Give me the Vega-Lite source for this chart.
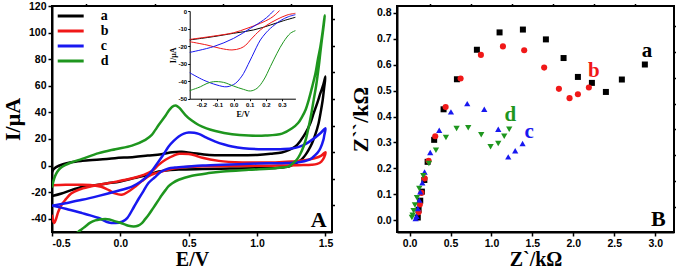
{
"$schema": "https://vega.github.io/schema/vega-lite/v6.json",
"padding": 0,
"background": "white",
"spacing": 11,
"resolve": {"scale": {"color": "independent", "shape": "independent", "size": "independent"}},
"config": {
  "view": {"stroke": "black", "strokeWidth": 2},
  "axis": {"domainColor": "black", "domainWidth": 2, "tickColor": "black", "tickWidth": 1.5, "tickSize": 4, "labelPadding": 2, "labelFont": "Liberation Sans", "labelFontWeight": "bold", "labelFontSize": 10.5, "labelColor": "black", "titleFont": "Liberation Serif", "titleFontWeight": "bold", "titleFontSize": 23, "titleColor": "black", "grid": false},
  "legend": {"orient": "top-left", "offset": 3, "padding": 0, "symbolType": "M-3,0H3", "symbolSize": 75, "symbolOffset": 8.7, "symbolStrokeWidth": 3, "labelFont": "Liberation Serif", "labelFontWeight": "bold", "labelFontSize": 14, "labelColor": "black", "labelOffset": 23, "rowPadding": 1}
},
"datasets": {
 "cv": [
  {"c":"a","o":1,"E":-0.5,"I":-5},{"c":"a","o":2,"E":-0.49,"I":-3},{"c":"a","o":3,"E":-0.47,"I":-1.2},{"c":"a","o":4,"E":-0.42,"I":1},{"c":"a","o":5,"E":-0.36,"I":2.5},{"c":"a","o":6,"E":-0.28,"I":3.5},{"c":"a","o":7,"E":-0.15,"I":4.5},{"c":"a","o":8,"E":-0.04,"I":5.5},{"c":"a","o":9,"E":0.1,"I":6.5},{"c":"a","o":10,"E":0.2,"I":7.5},{"c":"a","o":11,"E":0.3,"I":8.5},{"c":"a","o":12,"E":0.38,"I":10},{"c":"a","o":13,"E":0.45,"I":10.3},{"c":"a","o":14,"E":0.52,"I":9.5},{"c":"a","o":15,"E":0.65,"I":8},{"c":"a","o":16,"E":0.8,"I":7.8},{"c":"a","o":17,"E":1.0,"I":8},{"c":"a","o":18,"E":1.1,"I":8.8},{"c":"a","o":19,"E":1.18,"I":9.8},{"c":"a","o":20,"E":1.24,"I":12},{"c":"a","o":21,"E":1.28,"I":14.3},{"c":"a","o":22,"E":1.32,"I":19},{"c":"a","o":23,"E":1.354,"I":24.3},{"c":"a","o":24,"E":1.39,"I":32},{"c":"a","o":25,"E":1.414,"I":39.4},{"c":"a","o":26,"E":1.44,"I":47},{"c":"a","o":27,"E":1.463,"I":54.4},{"c":"a","o":28,"E":1.485,"I":61},{"c":"a","o":29,"E":1.5,"I":67},{"c":"a","o":30,"E":1.49,"I":58},{"c":"a","o":31,"E":1.48,"I":49.3},{"c":"a","o":32,"E":1.465,"I":40},{"c":"a","o":33,"E":1.45,"I":31.8},{"c":"a","o":34,"E":1.425,"I":23},{"c":"a","o":35,"E":1.402,"I":16.8},{"c":"a","o":36,"E":1.378,"I":12},{"c":"a","o":37,"E":1.354,"I":8},{"c":"a","o":38,"E":1.33,"I":5},{"c":"a","o":39,"E":1.305,"I":3},{"c":"a","o":40,"E":1.27,"I":1},{"c":"a","o":41,"E":1.232,"I":-0.7},{"c":"a","o":42,"E":1.15,"I":-1.6},{"c":"a","o":43,"E":1.0,"I":-2},{"c":"a","o":44,"E":0.8,"I":-2.3},{"c":"a","o":45,"E":0.6,"I":-2.6},{"c":"a","o":46,"E":0.45,"I":-3},{"c":"a","o":47,"E":0.35,"I":-3.5},{"c":"a","o":48,"E":0.28,"I":-4.5},{"c":"a","o":49,"E":0.2,"I":-7},{"c":"a","o":50,"E":0.1,"I":-9.5},{"c":"a","o":51,"E":0.0,"I":-12},{"c":"a","o":52,"E":-0.1,"I":-13.5},{"c":"a","o":53,"E":-0.2,"I":-15},{"c":"a","o":54,"E":-0.28,"I":-16.2},{"c":"a","o":55,"E":-0.36,"I":-18.5},{"c":"a","o":56,"E":-0.43,"I":-21},{"c":"a","o":57,"E":-0.5,"I":-23},
  {"c":"b","o":1,"E":-0.5,"I":-37},{"c":"b","o":2,"E":-0.49,"I":-42},{"c":"b","o":3,"E":-0.483,"I":-43.3},{"c":"b","o":4,"E":-0.47,"I":-40},{"c":"b","o":5,"E":-0.455,"I":-35},{"c":"b","o":6,"E":-0.43,"I":-29.5},{"c":"b","o":7,"E":-0.4,"I":-25.5},{"c":"b","o":8,"E":-0.36,"I":-21},{"c":"b","o":9,"E":-0.3,"I":-18},{"c":"b","o":10,"E":-0.22,"I":-15.8},{"c":"b","o":11,"E":-0.16,"I":-14.5},{"c":"b","o":12,"E":-0.04,"I":-12.3},{"c":"b","o":13,"E":0.08,"I":-9.8},{"c":"b","o":14,"E":0.17,"I":-7},{"c":"b","o":15,"E":0.23,"I":-4.2},{"c":"b","o":16,"E":0.28,"I":0.5},{"c":"b","o":17,"E":0.33,"I":4.3},{"c":"b","o":18,"E":0.39,"I":7.5},{"c":"b","o":19,"E":0.43,"I":8.8},{"c":"b","o":20,"E":0.5,"I":8.6},{"c":"b","o":21,"E":0.55,"I":7.5},{"c":"b","o":22,"E":0.6,"I":5.8},{"c":"b","o":23,"E":0.72,"I":3.5},{"c":"b","o":24,"E":0.89,"I":2.3},{"c":"b","o":25,"E":1.0,"I":2.2},{"c":"b","o":26,"E":1.134,"I":2.3},{"c":"b","o":27,"E":1.25,"I":3},{"c":"b","o":28,"E":1.35,"I":4},{"c":"b","o":29,"E":1.42,"I":5.5},{"c":"b","o":30,"E":1.47,"I":7.5},{"c":"b","o":31,"E":1.5,"I":10},{"c":"b","o":32,"E":1.49,"I":6},{"c":"b","o":33,"E":1.47,"I":3},{"c":"b","o":34,"E":1.44,"I":1.2},{"c":"b","o":35,"E":1.4,"I":0.5},{"c":"b","o":36,"E":1.3,"I":0.3},{"c":"b","o":37,"E":1.15,"I":0},{"c":"b","o":38,"E":1.0,"I":-0.2},{"c":"b","o":39,"E":0.8,"I":-0.4},{"c":"b","o":40,"E":0.6,"I":-0.6},{"c":"b","o":41,"E":0.5,"I":-0.9},{"c":"b","o":42,"E":0.45,"I":-1.5},{"c":"b","o":43,"E":0.38,"I":-2.5},{"c":"b","o":44,"E":0.3,"I":-4.5},{"c":"b","o":45,"E":0.25,"I":-6},{"c":"b","o":46,"E":0.207,"I":-8},{"c":"b","o":47,"E":0.16,"I":-11.5},{"c":"b","o":48,"E":0.11,"I":-15.8},{"c":"b","o":49,"E":0.06,"I":-19.5},{"c":"b","o":50,"E":0.01,"I":-22},{"c":"b","o":51,"E":-0.04,"I":-21},{"c":"b","o":52,"E":-0.085,"I":-18.5},{"c":"b","o":53,"E":-0.14,"I":-16},{"c":"b","o":54,"E":-0.207,"I":-14.8},{"c":"b","o":55,"E":-0.3,"I":-14.5},{"c":"b","o":56,"E":-0.4,"I":-14.5},{"c":"b","o":57,"E":-0.5,"I":-14.8},
  {"c":"c","o":1,"E":-0.5,"I":-30.3},{"c":"c","o":2,"E":-0.4,"I":-28.3},{"c":"c","o":3,"E":-0.28,"I":-25.8},{"c":"c","o":4,"E":-0.158,"I":-22.8},{"c":"c","o":5,"E":-0.036,"I":-19.5},{"c":"c","o":6,"E":0.085,"I":-15.8},{"c":"c","o":7,"E":0.15,"I":-12},{"c":"c","o":8,"E":0.207,"I":-7},{"c":"c","o":9,"E":0.245,"I":-2},{"c":"c","o":10,"E":0.28,"I":3},{"c":"c","o":11,"E":0.32,"I":9},{"c":"c","o":12,"E":0.353,"I":14.3},{"c":"c","o":13,"E":0.39,"I":18.5},{"c":"c","o":14,"E":0.427,"I":21.8},{"c":"c","o":15,"E":0.465,"I":24},{"c":"c","o":16,"E":0.5,"I":24.8},{"c":"c","o":17,"E":0.54,"I":24.6},{"c":"c","o":18,"E":0.573,"I":23.8},{"c":"c","o":19,"E":0.63,"I":21},{"c":"c","o":20,"E":0.695,"I":18},{"c":"c","o":21,"E":0.76,"I":15.8},{"c":"c","o":22,"E":0.817,"I":14.3},{"c":"c","o":23,"E":0.9,"I":13},{"c":"c","o":24,"E":1.01,"I":12.3},{"c":"c","o":25,"E":1.158,"I":12.3},{"c":"c","o":26,"E":1.25,"I":12.8},{"c":"c","o":27,"E":1.305,"I":14},{"c":"c","o":28,"E":1.36,"I":16.5},{"c":"c","o":29,"E":1.402,"I":19.3},{"c":"c","o":30,"E":1.463,"I":24.3},{"c":"c","o":31,"E":1.5,"I":28},{"c":"c","o":32,"E":1.492,"I":23},{"c":"c","o":33,"E":1.485,"I":19.3},{"c":"c","o":34,"E":1.463,"I":13},{"c":"c","o":35,"E":1.445,"I":10},{"c":"c","o":36,"E":1.427,"I":8},{"c":"c","o":37,"E":1.4,"I":5.5},{"c":"c","o":38,"E":1.378,"I":4.3},{"c":"c","o":39,"E":1.305,"I":2.5},{"c":"c","o":40,"E":1.183,"I":1.8},{"c":"c","o":41,"E":1.0,"I":1.5},{"c":"c","o":42,"E":0.8,"I":0.8},{"c":"c","o":43,"E":0.6,"I":0},{"c":"c","o":44,"E":0.5,"I":-0.7},{"c":"c","o":45,"E":0.4,"I":-1.5},{"c":"c","o":46,"E":0.353,"I":-2.2},{"c":"c","o":47,"E":0.3,"I":-4.5},{"c":"c","o":48,"E":0.25,"I":-9},{"c":"c","o":49,"E":0.207,"I":-13},{"c":"c","o":50,"E":0.17,"I":-19},{"c":"c","o":51,"E":0.134,"I":-25},{"c":"c","o":52,"E":0.1,"I":-31},{"c":"c","o":53,"E":0.05,"I":-39.5},{"c":"c","o":54,"E":0.013,"I":-42.3},{"c":"c","o":55,"E":-0.036,"I":-43.3},{"c":"c","o":56,"E":-0.085,"I":-42.8},{"c":"c","o":57,"E":-0.158,"I":-39.5},{"c":"c","o":58,"E":-0.22,"I":-37.5},{"c":"c","o":59,"E":-0.28,"I":-35.8},{"c":"c","o":60,"E":-0.4,"I":-32.5},{"c":"c","o":61,"E":-0.5,"I":-30},
  {"c":"d","o":1,"E":-0.5,"I":-16.5},{"c":"d","o":2,"E":-0.49,"I":-12},{"c":"d","o":3,"E":-0.478,"I":-8},{"c":"d","o":4,"E":-0.46,"I":-4.5},{"c":"d","o":5,"E":-0.44,"I":-2},{"c":"d","o":6,"E":-0.4,"I":0.5},{"c":"d","o":7,"E":-0.36,"I":2.3},{"c":"d","o":8,"E":-0.28,"I":5},{"c":"d","o":9,"E":-0.158,"I":9.3},{"c":"d","o":10,"E":-0.036,"I":12.3},{"c":"d","o":11,"E":0.085,"I":15},{"c":"d","o":12,"E":0.183,"I":19.3},{"c":"d","o":13,"E":0.23,"I":23},{"c":"d","o":14,"E":0.256,"I":26.8},{"c":"d","o":15,"E":0.28,"I":30.5},{"c":"d","o":16,"E":0.33,"I":37.5},{"c":"d","o":17,"E":0.36,"I":42},{"c":"d","o":18,"E":0.39,"I":44.8},{"c":"d","o":19,"E":0.41,"I":45},{"c":"d","o":20,"E":0.43,"I":43.5},{"c":"d","o":21,"E":0.476,"I":38},{"c":"d","o":22,"E":0.52,"I":34},{"c":"d","o":23,"E":0.573,"I":30.5},{"c":"d","o":24,"E":0.63,"I":28},{"c":"d","o":25,"E":0.695,"I":26},{"c":"d","o":26,"E":0.817,"I":23.5},{"c":"d","o":27,"E":0.939,"I":22.5},{"c":"d","o":28,"E":1.06,"I":22.5},{"c":"d","o":29,"E":1.183,"I":24},{"c":"d","o":30,"E":1.256,"I":28},{"c":"d","o":31,"E":1.3,"I":32},{"c":"d","o":32,"E":1.33,"I":36.8},{"c":"d","o":33,"E":1.355,"I":42},{"c":"d","o":34,"E":1.378,"I":49.4},{"c":"d","o":35,"E":1.4,"I":58},{"c":"d","o":36,"E":1.427,"I":69.4},{"c":"d","o":37,"E":1.445,"I":80},{"c":"d","o":38,"E":1.463,"I":89.4},{"c":"d","o":39,"E":1.48,"I":101},{"c":"d","o":40,"E":1.495,"I":113},{"c":"d","o":41,"E":1.488,"I":106},{"c":"d","o":42,"E":1.48,"I":99.5},{"c":"d","o":43,"E":1.465,"I":87},{"c":"d","o":44,"E":1.451,"I":74.4},{"c":"d","o":45,"E":1.432,"I":60},{"c":"d","o":46,"E":1.414,"I":49.4},{"c":"d","o":47,"E":1.395,"I":38},{"c":"d","o":48,"E":1.378,"I":29.3},{"c":"d","o":49,"E":1.36,"I":21},{"c":"d","o":50,"E":1.34,"I":14.3},{"c":"d","o":51,"E":1.315,"I":8.5},{"c":"d","o":52,"E":1.29,"I":4.3},{"c":"d","o":53,"E":1.26,"I":1.5},{"c":"d","o":54,"E":1.232,"I":-0.7},{"c":"d","o":55,"E":1.134,"I":-2},{"c":"d","o":56,"E":0.939,"I":-3.2},{"c":"d","o":57,"E":0.75,"I":-4.5},{"c":"d","o":58,"E":0.646,"I":-5.7},{"c":"d","o":59,"E":0.524,"I":-7.7},{"c":"d","o":60,"E":0.427,"I":-10.7},{"c":"d","o":61,"E":0.38,"I":-13.3},{"c":"d","o":62,"E":0.353,"I":-15.5},{"c":"d","o":63,"E":0.33,"I":-18.5},{"c":"d","o":64,"E":0.305,"I":-22},{"c":"d","o":65,"E":0.28,"I":-25.8},{"c":"d","o":66,"E":0.24,"I":-32},{"c":"d","o":67,"E":0.207,"I":-37},{"c":"d","o":68,"E":0.18,"I":-40.5},{"c":"d","o":69,"E":0.158,"I":-43.3},{"c":"d","o":70,"E":0.128,"I":-45.3},{"c":"d","o":71,"E":0.098,"I":-45.8},{"c":"d","o":72,"E":0.06,"I":-45.3},{"c":"d","o":73,"E":0.037,"I":-44.5},{"c":"d","o":74,"E":0.0,"I":-43},{"c":"d","o":75,"E":-0.036,"I":-42},{"c":"d","o":76,"E":-0.08,"I":-40.6},{"c":"d","o":77,"E":-0.11,"I":-40.3},{"c":"d","o":78,"E":-0.15,"I":-40.6},{"c":"d","o":79,"E":-0.183,"I":-41.3},{"c":"d","o":80,"E":-0.22,"I":-43},{"c":"d","o":81,"E":-0.256,"I":-45.8},{"c":"d","o":82,"E":-0.28,"I":-47.8},{"c":"d","o":83,"E":-0.305,"I":-49.6},{"c":"d","o":84,"E":-0.33,"I":-52}
 ],
 "inset": [
  {"c":"a","s":"a1","o":1,"E":-0.272,"I":-16.5},{"c":"a","s":"a1","o":2,"E":-0.2,"I":-15.6},{"c":"a","s":"a1","o":3,"E":-0.124,"I":-14.6},{"c":"a","s":"a1","o":4,"E":0,"I":-12.7},{"c":"a","s":"a1","o":5,"E":0.124,"I":-10.8},{"c":"a","s":"a1","o":6,"E":0.228,"I":-8},{"c":"a","s":"a1","o":7,"E":0.31,"I":-5.5},{"c":"a","s":"a1","o":8,"E":0.383,"I":-3.6},
  {"c":"b","s":"b1","o":1,"E":-0.272,"I":-16.2},{"c":"b","s":"b1","o":2,"E":-0.124,"I":-14.3},{"c":"b","s":"b1","o":3,"E":0,"I":-12.4},{"c":"b","s":"b1","o":4,"E":0.083,"I":-9.9},{"c":"b","s":"b1","o":5,"E":0.166,"I":-7},{"c":"b","s":"b1","o":6,"E":0.228,"I":-4.2},{"c":"b","s":"b1","o":7,"E":0.26,"I":-2},{"c":"b","s":"b1","o":8,"E":0.285,"I":0.3},
  {"c":"b","s":"b2","o":1,"E":-0.272,"I":-17.5},{"c":"b","s":"b2","o":2,"E":-0.165,"I":-19.4},{"c":"b","s":"b2","o":3,"E":-0.082,"I":-21.3},{"c":"b","s":"b2","o":4,"E":-0.01,"I":-22.2},{"c":"b","s":"b2","o":5,"E":0.042,"I":-21.3},{"c":"b","s":"b2","o":6,"E":0.075,"I":-19.5},{"c":"b","s":"b2","o":7,"E":0.104,"I":-16.5},{"c":"b","s":"b2","o":8,"E":0.135,"I":-13.5},{"c":"b","s":"b2","o":9,"E":0.166,"I":-10.8},{"c":"b","s":"b2","o":10,"E":0.207,"I":-8},{"c":"b","s":"b2","o":11,"E":0.269,"I":-4.8},{"c":"b","s":"b2","o":12,"E":0.331,"I":-2.3},{"c":"b","s":"b2","o":13,"E":0.383,"I":-1.3},
  {"c":"c","s":"c1","o":1,"E":-0.272,"I":-23.6},{"c":"c","s":"c1","o":2,"E":-0.124,"I":-20.3},{"c":"c","s":"c1","o":3,"E":0,"I":-15.6},{"c":"c","s":"c1","o":4,"E":0.104,"I":-9.9},{"c":"c","s":"c1","o":5,"E":0.186,"I":-5.1},{"c":"c","s":"c1","o":6,"E":0.22,"I":-2.5},{"c":"c","s":"c1","o":7,"E":0.25,"I":0.3},
  {"c":"c","s":"c2","o":1,"E":-0.272,"I":-35.2},{"c":"c","s":"c2","o":2,"E":-0.186,"I":-39.4},{"c":"c","s":"c2","o":3,"E":-0.103,"I":-42.2},{"c":"c","s":"c2","o":4,"E":-0.041,"I":-43.2},{"c":"c","s":"c2","o":5,"E":0.011,"I":-41.3},{"c":"c","s":"c2","o":6,"E":0.04,"I":-38.5},{"c":"c","s":"c2","o":7,"E":0.062,"I":-35.6},{"c":"c","s":"c2","o":8,"E":0.09,"I":-30.5},{"c":"c","s":"c2","o":9,"E":0.114,"I":-26},{"c":"c","s":"c2","o":10,"E":0.14,"I":-21},{"c":"c","s":"c2","o":11,"E":0.166,"I":-16.5},{"c":"c","s":"c2","o":12,"E":0.2,"I":-12.5},{"c":"c","s":"c2","o":13,"E":0.228,"I":-9.9},{"c":"c","s":"c2","o":14,"E":0.29,"I":-5.5},{"c":"c","s":"c2","o":15,"E":0.341,"I":-3.2},{"c":"c","s":"c2","o":16,"E":0.383,"I":-2.1},
  {"c":"d","s":"d1","o":1,"E":-0.272,"I":-45.4},{"c":"d","s":"d1","o":2,"E":-0.206,"I":-43.2},{"c":"d","s":"d1","o":3,"E":-0.165,"I":-41.3},{"c":"d","s":"d1","o":4,"E":-0.124,"I":-40.3},{"c":"d","s":"d1","o":5,"E":-0.062,"I":-40.7},{"c":"d","s":"d1","o":6,"E":0,"I":-42.8},{"c":"d","s":"d1","o":7,"E":0.062,"I":-44.7},{"c":"d","s":"d1","o":8,"E":0.104,"I":-45.6},{"c":"d","s":"d1","o":9,"E":0.145,"I":-44.1},{"c":"d","s":"d1","o":10,"E":0.186,"I":-39.4},{"c":"d","s":"d1","o":11,"E":0.228,"I":-31.7},{"c":"d","s":"d1","o":12,"E":0.269,"I":-24.1},{"c":"d","s":"d1","o":13,"E":0.31,"I":-17.5},{"c":"d","s":"d1","o":14,"E":0.352,"I":-12.7},{"c":"d","s":"d1","o":15,"E":0.383,"I":-11.2}
 ],
 "eis": [
  {"s":"a","zr":0.1,"zi":0.01},{"s":"a","zr":0.11,"zi":0.04},{"s":"a","zr":0.13,"zi":0.075},{"s":"a","zr":0.15,"zi":0.11},{"s":"a","zr":0.18,"zi":0.155},{"s":"a","zr":0.22,"zi":0.225},{"s":"a","zr":0.3,"zi":0.31},{"s":"a","zr":0.415,"zi":0.428},{"s":"a","zr":0.578,"zi":0.544},{"s":"a","zr":0.822,"zi":0.658},{"s":"a","zr":1.099,"zi":0.725},{"s":"a","zr":1.384,"zi":0.736},{"s":"a","zr":1.665,"zi":0.698},{"s":"a","zr":1.881,"zi":0.626},{"s":"a","zr":2.056,"zi":0.553},{"s":"a","zr":2.227,"zi":0.53},{"s":"a","zr":2.398,"zi":0.495},{"s":"a","zr":2.593,"zi":0.543},{"s":"a","zr":2.874,"zi":0.601},
  {"s":"b","zr":0.11,"zi":0.03},{"s":"b","zr":0.125,"zi":0.06},{"s":"b","zr":0.145,"zi":0.105},{"s":"b","zr":0.183,"zi":0.161},{"s":"b","zr":0.232,"zi":0.229},{"s":"b","zr":0.313,"zi":0.324},{"s":"b","zr":0.44,"zi":0.437},{"s":"b","zr":0.623,"zi":0.547},{"s":"b","zr":0.871,"zi":0.638},{"s":"b","zr":1.14,"zi":0.671},{"s":"b","zr":1.4,"zi":0.656},{"s":"b","zr":1.644,"zi":0.589},{"s":"b","zr":1.824,"zi":0.507},{"s":"b","zr":1.954,"zi":0.471},{"s":"b","zr":2.056,"zi":0.486},{"s":"b","zr":2.19,"zi":0.512},
  {"s":"c","zr":0.073,"zi":0.006},{"s":"c","zr":0.085,"zi":0.015},{"s":"c","zr":0.1,"zi":0.045},{"s":"c","zr":0.118,"zi":0.077},{"s":"c","zr":0.13,"zi":0.109},{"s":"c","zr":0.155,"zi":0.144},{"s":"c","zr":0.183,"zi":0.186},{"s":"c","zr":0.252,"zi":0.261},{"s":"c","zr":0.362,"zi":0.347},{"s":"c","zr":0.505,"zi":0.418},{"s":"c","zr":0.704,"zi":0.45},{"s":"c","zr":0.912,"zi":0.428},{"s":"c","zr":1.083,"zi":0.351},{"s":"c","zr":1.205,"zi":0.244},{"s":"c","zr":1.29,"zi":0.268},{"s":"c","zr":1.38,"zi":0.296},
  {"s":"d","zr":0.028,"zi":0.01},{"s":"d","zr":0.037,"zi":0.019},{"s":"d","zr":0.049,"zi":0.036},{"s":"d","zr":0.065,"zi":0.058},{"s":"d","zr":0.09,"zi":0.086},{"s":"d","zr":0.118,"zi":0.122},{"s":"d","zr":0.167,"zi":0.171},{"s":"d","zr":0.236,"zi":0.219},{"s":"d","zr":0.322,"zi":0.27},{"s":"d","zr":0.444,"zi":0.319},{"s":"d","zr":0.574,"zi":0.354},{"s":"d","zr":0.716,"zi":0.357},{"s":"d","zr":0.875,"zi":0.33},{"s":"d","zr":0.989,"zi":0.283},{"s":"d","zr":1.083,"zi":0.296},{"s":"d","zr":1.156,"zi":0.324},{"s":"d","zr":1.217,"zi":0.351}
 ],
 "eislab": [
  {"s":"a","t":"a","zr":2.9,"zi":0.63},{"s":"b","t":"b","zr":2.25,"zi":0.553},{"s":"d","t":"d","zr":1.23,"zi":0.383},{"s":"c","t":"c","zr":1.46,"zi":0.319}
 ]
},
"hconcat": [
 {
  "width": 280, "height": 226,
  "layer": [
   {"layer": [
     {"data": {"name": "cv"}, "mark": {"type": "line", "strokeWidth": 2.5, "clip": true, "interpolate": "catmull-rom"},
      "encoding": {
       "x": {"field": "E", "type": "quantitative", "scale": {"domain": [-0.5, 1.548], "nice": false, "zero": false}, "axis": {"values": [-0.5, 0, 0.5, 1, 1.5], "format": ".1f", "labelExpr": "replace(datum.label, '−', '-')", "title": "E/V", "titlePadding": 1, "titleFontSize": 20}},
       "y": {"field": "I", "type": "quantitative", "scale": {"domain": [-50, 120], "nice": false, "zero": false}, "axis": {"values": [-40, -20, 0, 20, 40, 60, 80, 100, 120], "labelExpr": "replace(datum.label, '−', '-')", "title": "I/μA", "titlePadding": 4, "titleFontSize": 22}},
       "color": {"field": "c", "type": "nominal", "scale": {"domain": ["a", "b", "c", "d"], "range": ["#000000", "#f01818", "#1818f0", "#1e961e"]}, "legend": {"title": null}},
       "order": {"field": "o", "type": "quantitative"}
      }},
     {"data": {"values": [{"E": 1.45, "I": -46, "t": "A"}]}, "mark": {"type": "text", "font": "Liberation Serif", "fontWeight": "bold", "fontSize": 22, "align": "center", "baseline": "alphabetic", "color": "black"},
      "encoding": {
       "x": {"field": "E", "type": "quantitative", "axis": {"values": [-0.25, 0.25, 0.75, 1.25], "labels": false, "domain": false, "title": null, "tickSize": 2.5}},
       "y": {"field": "I", "type": "quantitative", "axis": {"values": [-30, -10, 10, 30, 50, 70, 90, 110], "labels": false, "domain": false, "title": null, "tickSize": 2.5}},
       "text": {"field": "t"}}}
   ],
   "resolve": {"axis": {"x": "independent", "y": "independent"}}},
   {"data": {"name": "inset"}, "mark": {"type": "line", "strokeWidth": 1, "interpolate": "catmull-rom"},
    "encoding": {
     "x": {"field": "E", "type": "quantitative", "scale": {"domain": [-0.272, 0.383], "range": [137.7, 243.4], "nice": false, "zero": false}, "axis": {"orient": "bottom", "offset": -133.3, "values": [-0.2, -0.1, 0, 0.1, 0.2, 0.3], "format": ".1f", "labelExpr": "replace(datum.label, '−', '-')", "domainWidth": 1, "tickSize": 2, "tickWidth": 1, "labelFontSize": 6, "labelPadding": 1, "title": "E/V", "titleFontSize": 8, "titlePadding": 3}},
     "y": {"field": "I", "type": "quantitative", "scale": {"domain": [-50, 0], "range": [92.7, 5], "nice": false, "zero": false}, "axis": {"orient": "left", "offset": -137.7, "values": [0, -10, -20, -30, -40, -50], "labelExpr": "replace(datum.label, '−', '-')", "domainWidth": 1, "tickSize": 2, "tickWidth": 1, "labelFontSize": 6, "labelPadding": 1, "title": "I/μA", "titleFontSize": 8, "titlePadding": 1}},
     "color": {"field": "c", "type": "nominal"},
     "detail": {"field": "s"},
     "order": {"field": "o", "type": "quantitative"}
    }}
  ],
  "resolve": {"scale": {"x": "independent", "y": "independent"}}
 },
 {
  "width": 277, "height": 226,
  "layer": [
   {"data": {"name": "eis"}, "mark": {"type": "point", "filled": true, "opacity": 1},
    "encoding": {
     "x": {"field": "zr", "type": "quantitative", "scale": {"domain": [-0.154, 3.23], "nice": false, "zero": false}, "axis": {"values": [0, 0.5, 1, 1.5, 2, 2.5, 3], "format": ".1f", "title": "Z`/kΩ", "titlePadding": 1, "titleFontSize": 20}},
     "y": {"field": "zi", "type": "quantitative", "scale": {"domain": [-0.046, 0.827], "nice": false, "zero": false}, "axis": {"values": [0, 0.1, 0.2, 0.3, 0.4, 0.5, 0.6, 0.7, 0.8], "format": ".1f", "title": "Z``/kΩ", "titlePadding": 4, "titleFontSize": 22}},
     "color": {"field": "s", "type": "nominal", "scale": {"domain": ["a", "b", "c", "d"], "range": ["#000000", "#f01818", "#1818f0", "#1e961e"]}, "legend": null},
     "shape": {"field": "s", "type": "nominal", "scale": {"domain": ["a", "b", "c", "d"], "range": ["square", "circle", "triangle-up", "triangle-down"]}, "legend": null},
     "size": {"field": "s", "type": "nominal", "scale": {"domain": ["a", "b", "c", "d"], "range": [36, 40, 55, 55]}, "legend": null}
    }},
   {"data": {"name": "eislab"}, "mark": {"type": "text", "font": "Liberation Serif", "fontWeight": "bold", "fontSize": 21, "align": "center", "baseline": "alphabetic"},
    "encoding": {
     "x": {"field": "zr", "type": "quantitative", "axis": {"values": [0.25, 0.75, 1.25, 1.75, 2.25, 2.75], "labels": false, "domain": false, "title": null, "tickSize": 2.5}},
     "y": {"field": "zi", "type": "quantitative", "axis": {"values": [0.05, 0.15, 0.25, 0.35, 0.45, 0.55, 0.65, 0.75], "labels": false, "domain": false, "title": null, "tickSize": 2.5}},
     "text": {"field": "t"},
     "color": {"field": "s", "type": "nominal", "legend": null}
    }},
   {"data": {"values": [{"zr": 3.04, "zi": -0.023, "t": "B"}]}, "mark": {"type": "text", "font": "Liberation Serif", "fontWeight": "bold", "fontSize": 22, "align": "center", "baseline": "alphabetic", "color": "black"},
    "encoding": {"x": {"field": "zr", "type": "quantitative", "axis": null}, "y": {"field": "zi", "type": "quantitative", "axis": null}, "text": {"field": "t"}}}
  ],
  "resolve": {"axis": {"x": "independent", "y": "independent"}}
 }
]
}
